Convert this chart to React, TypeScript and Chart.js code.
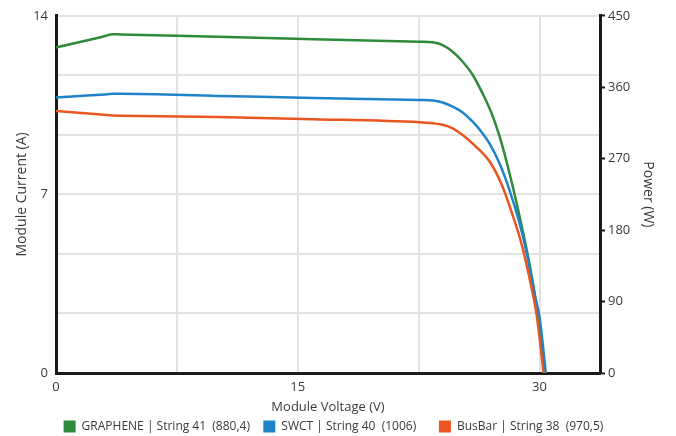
import React, { useEffect, useRef } from "react";
import { Chart, registerables } from "chart.js";

Chart.register(...registerables);

const seriesNames = [
  "GRAPHENE | String 41  (880,4)",
  "SWCT | String 40  (1006)",
  "BusBar | String 38  (970,5)",
];
const legendGaps = ["   ", "      ", " "];
const seriesColors = ["#2f8a3c", "#1e84c9", "#e9561f"];

const grapheneVoltage = [0, 3.0, 3.5, 4.0, 10, 16, 22.56, 23.37, 23.99, 24.61, 25.23, 25.85, 26.47, 27.03, 27.52, 28.14, 28.76, 29.38, 29.88, 30.31];
const grapheneCurrent = [12.76, 13.2, 13.28, 13.27, 13.18, 13.08, 12.98, 12.96, 12.85, 12.59, 12.2, 11.69, 10.95, 10.17, 9.27, 7.82, 6.14, 4.26, 2.35, 0];

const swctVoltage = [0, 3.0, 3.5, 4.0, 10, 16, 22.56, 23.37, 23.99, 24.61, 25.23, 25.85, 26.47, 26.9, 27.52, 28.14, 28.76, 29.19, 29.69, 30.0, 30.39];
const swctCurrent = [10.8, 10.92, 10.94, 10.94, 10.86, 10.78, 10.7, 10.68, 10.6, 10.44, 10.21, 9.85, 9.39, 8.99, 8.21, 7.16, 5.87, 4.73, 3.09, 2.19, 0];

const busbarVoltage = [0, 3.0, 3.5, 4.0, 10, 16, 22.56, 23.37, 23.99, 24.61, 25.23, 25.97, 26.9, 27.65, 28.27, 28.89, 29.51, 29.82, 30.25];
const busbarCurrent = [10.27, 10.12, 10.09, 10.085, 10.03, 9.95, 9.83, 9.79, 9.73, 9.59, 9.33, 8.92, 8.29, 7.39, 6.3, 5.04, 3.32, 2.27, 0];

const xGridValues = [0, 7.5, 15, 22.5, 30];
const xLabelValues = [0, 15, 30];
const xMax = 33.75;
const yGridCount = 6;
const yMax = 14;
const powerTicks = [0, 90, 180, 270, 360, 450];

const FONT = "'Open Sans', 'Noto Sans', sans-serif";
const TEXT = "#3a3a3a";
const AXIS = "#1a1a1a";
const GRID = "#e2e2e2";

function pts(xs: number[], ys: number[]) {
  return xs.map((x, i) => ({ x, y: ys[i] }));
}

export default function App() {
  const ref = useRef<HTMLCanvasElement | null>(null);
  useEffect(() => {
    document.body.style.margin = "0";
    const ctx = ref.current!;
    const data = [
      pts(grapheneVoltage, grapheneCurrent),
      pts(swctVoltage, swctCurrent),
      pts(busbarVoltage, busbarCurrent),
    ];
    const drawOrder = [3, 2, 1];
    const chart = new Chart(ctx, {
      type: "line",
      data: {
        datasets: data.map((d, i) => ({
          label: seriesNames[i],
          data: d,
          order: drawOrder[i],
          borderColor: seriesColors[i],
          backgroundColor: seriesColors[i],
          borderWidth: 2.5,
          pointRadius: 0,
          cubicInterpolationMode: "monotone" as const,
          yAxisID: "y",
        })),
      },
      options: {
        animation: false,
        responsive: false,
        maintainAspectRatio: false,
        layout: { padding: { top: 14, left: 13.6, right: 19.6, bottom: -6.5 } },
        plugins: {
          tooltip: { enabled: false },
          legend: {
            position: "bottom",
            labels: {
              font: { family: FONT, size: 12 },
              color: TEXT,
              boxWidth: 12,
              boxHeight: 12,
              padding: 4,
              sort: (a: any, b: any) => a.datasetIndex - b.datasetIndex,
              generateLabels: (c: any) => {
                const items = Chart.defaults.plugins.legend.labels.generateLabels(c);
                return items.map((it: any) => ({
                  ...it,
                  text: seriesNames[it.datasetIndex] + legendGaps[it.datasetIndex],
                  lineWidth: 0,
                  strokeStyle: "transparent",
                }));
              },
            },
          },
        },
        scales: {
          x: {
            type: "linear",
            min: 0,
            max: xMax,
            afterBuildTicks: (axis: any) => {
              axis.ticks = xGridValues.map((v) => ({ value: v }));
            },
            afterFit: (axis: any) => {
              axis.height = 43.5;
            },
            ticks: {
              font: { family: FONT, size: 13 },
              color: TEXT,
              padding: 6,
              maxRotation: 0,
              callback: (v: any) => (xLabelValues.includes(Number(v)) ? String(v) : ""),
            },
            grid: { color: GRID, lineWidth: 2, drawTicks: false },
            border: { color: AXIS, width: 3 },
            title: {
              display: true,
              text: "Module Voltage (V)",
              font: { family: FONT, size: 13 },
              color: TEXT,
              padding: { top: 4.6, bottom: 1.7 },
            },
          },
          y: {
            type: "linear",
            position: "left",
            min: 0,
            max: yMax,
            afterBuildTicks: (axis: any) => {
              axis.ticks = Array.from({ length: yGridCount + 1 }, (_, i) => ({ value: (i * yMax) / yGridCount }));
            },
            afterFit: (axis: any) => {
              axis.width = 42.4;
            },
            ticks: {
              font: { family: FONT, size: 13 },
              color: TEXT,
              padding: 8,
              callback: (v: any, i: number) => (i % 3 === 0 ? String(Math.round(Number(v))) : ""),
            },
            grid: { color: GRID, lineWidth: 2, drawTicks: false },
            border: { color: AXIS, width: 3 },
            title: {
              display: true,
              text: "Module Current (A)",
              font: { family: FONT, size: 14 },
              color: TEXT,
              padding: { top: 0, bottom: 2 },
            },
          },
          y1: {
            type: "linear",
            position: "right",
            min: 0,
            max: 450,
            afterBuildTicks: (axis: any) => {
              axis.ticks = powerTicks.map((v) => ({ value: v }));
            },
            afterFit: (axis: any) => {
              axis.width = 56.4;
            },
            ticks: {
              font: { family: FONT, size: 13 },
              color: TEXT,
              padding: 3,
            },
            grid: {
              drawOnChartArea: false,
              drawTicks: true,
              tickLength: 5,
              tickColor: AXIS,
              tickWidth: 2,
            },
            border: { color: AXIS, width: 3 },
            title: {
              display: true,
              text: "Power (W)",
              font: { family: FONT, size: 14 },
              color: TEXT,
              padding: { top: 0, bottom: 8 },
            },
          },
        },
      },
    } as any);
    return () => chart.destroy();
  }, []);
  return (
    <div style={{ width: 676, height: 436 }}>
      <canvas ref={ref} width={676} height={436} style={{ width: 676, height: 436 }} />
    </div>
  );
}
